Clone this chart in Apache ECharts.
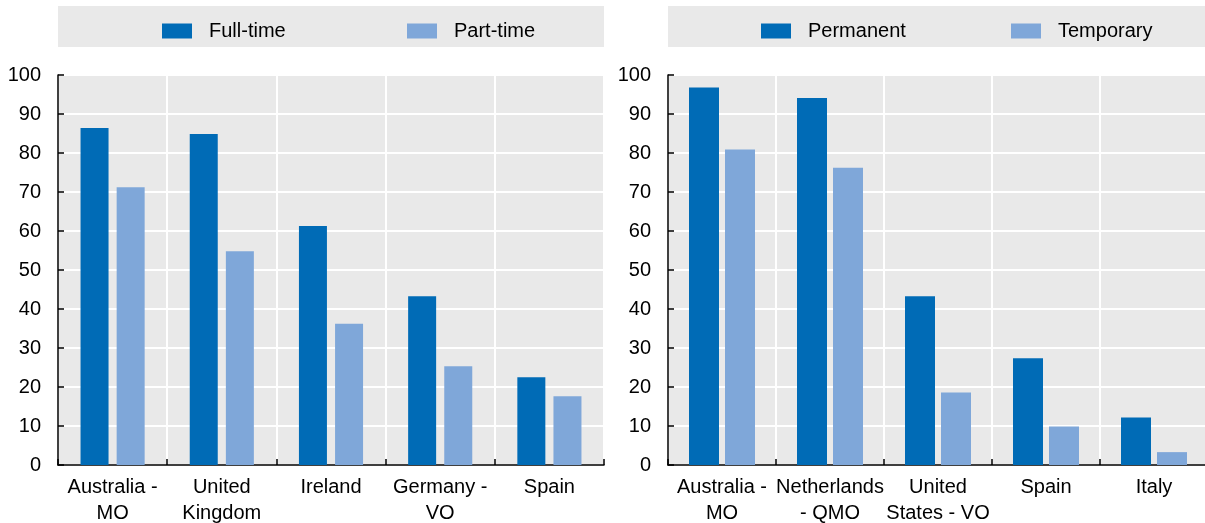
<!DOCTYPE html>
<html><head><meta charset="utf-8">
<script src="https://cdn.jsdelivr.net/npm/echarts@6/dist/echarts.min.js"></script>
<style>html,body{margin:0;padding:0;background:#fff}#c{width:1205px;height:523px}</style>
</head><body><div id="c"></div>
<script>
const leftCategories = ['Australia -\nMO', 'United\nKingdom', 'Ireland', 'Germany -\nVO', 'Spain'];
const fullTime = [86.4, 84.9, 61.3, 43.3, 22.5];
const partTime = [71.2, 54.8, 36.2, 25.3, 17.6];
const rightCategories = ['Australia -\nMO', 'Netherlands\n- QMO', 'United\nStates - VO', 'Spain', 'Italy'];
const permanent = [96.8, 94.1, 43.3, 27.4, 12.2];
const temporary = [80.9, 76.2, 18.6, 9.9, 3.3];
const yTicks = [0, 10, 20, 30, 40, 50, 60, 70, 80, 90, 100];

const FONT = '"Liberation Sans Narrow", "Arial Narrow", "Liberation Sans", Arial, sans-serif';
const DARK = '#006bb6', LIGHT = '#7fa7d9', BG = '#e9e9e9';

const chart = echarts.init(document.getElementById('c'), null, {renderer: 'canvas'});

function xAxis(cats, gi) {
  return {
    type: 'category', gridIndex: gi, data: cats,
    axisLine: {show: true, lineStyle: {color: '#000', width: 1.5}},
    axisTick: {show: true, inside: true, length: 6, alignWithLabel: false, lineStyle: {color: '#000', width: 1.5}},
    axisLabel: {interval: 0, color: '#000', fontFamily: FONT, fontSize: 20, lineHeight: 26, margin: 9},
    splitLine: {show: true, interval: 0, lineStyle: {color: '#fff', width: 2}}
  };
}
function yAxis(gi) {
  return {
    type: 'value', gridIndex: gi, min: yTicks[0], max: yTicks[yTicks.length - 1], interval: 10,
    axisLine: {show: true, lineStyle: {color: '#000', width: 1.5}},
    axisTick: {show: true, inside: true, length: 6, lineStyle: {color: '#000', width: 1.5}},
    axisLabel: {color: '#000', fontFamily: FONT, fontSize: 20, margin: 17},
    splitLine: {show: true, lineStyle: {color: '#fff', width: 2}}
  };
}
const legendBase = {orient: 'horizontal', top: 21, padding: 0, itemWidth: 30, itemHeight: 15, icon: 'rect',
  textStyle: {color: '#000', fontFamily: FONT, fontSize: 20, padding: [3, 0, 0, 12]}};

chart.setOption({
  animation: false,
  backgroundColor: '#fff',
  graphic: [
    {type: 'rect', shape: {x: 58, y: 6, width: 546, height: 41}, style: {fill: BG}, z: -10},
    {type: 'rect', shape: {x: 668, y: 6, width: 540, height: 41}, style: {fill: BG}, z: -10}
  ],
  legend: [
    Object.assign({}, legendBase, {data: ['Full-time'], left: 162}),
    Object.assign({}, legendBase, {data: ['Part-time'], left: 407}),
    Object.assign({}, legendBase, {data: ['Permanent'], left: 761}),
    Object.assign({}, legendBase, {data: ['Temporary'], left: 1011})
  ],
  grid: [
    {left: 58, top: 75, width: 546, height: 390, show: true, backgroundColor: BG, borderWidth: 0, containLabel: false, outerBoundsMode: 'none'},
    {left: 668, top: 75, width: 540, height: 390, show: true, backgroundColor: BG, borderWidth: 0, containLabel: false, outerBoundsMode: 'none'}
  ],
  xAxis: [xAxis(leftCategories, 0), xAxis(rightCategories, 1)],
  yAxis: [yAxis(0), yAxis(1)],
  series: [
    {name: 'Full-time', type: 'bar', xAxisIndex: 0, yAxisIndex: 0, data: fullTime, barWidth: 28, barGap: '29%', itemStyle: {color: DARK}},
    {name: 'Part-time', type: 'bar', xAxisIndex: 0, yAxisIndex: 0, data: partTime, barWidth: 28, barGap: '29%', itemStyle: {color: LIGHT}},
    {name: 'Permanent', type: 'bar', xAxisIndex: 1, yAxisIndex: 1, data: permanent, barWidth: 30, barGap: '20%', itemStyle: {color: DARK}},
    {name: 'Temporary', type: 'bar', xAxisIndex: 1, yAxisIndex: 1, data: temporary, barWidth: 30, barGap: '20%', itemStyle: {color: LIGHT}}
  ]
});
</script></body></html>
